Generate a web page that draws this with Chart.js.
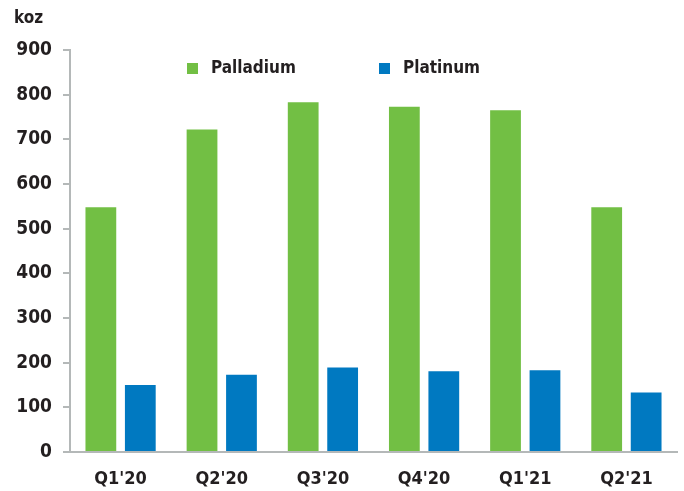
<!DOCTYPE html>
<html>
<head>
<meta charset="utf-8">
<script src="https://cdn.jsdelivr.net/npm/chart.js@4"></script>
<style>
    html, body { margin: 0; padding: 0; background: #fff; }
    #wrap { width: 684px; height: 491px; position: relative; }
</style>
</head>
<body>
<div id="wrap"><canvas id="myChart" width="684" height="491"></canvas></div>
<script>
// Dados
const quarters = ["Q1'20", "Q2'20", "Q3'20", "Q4'20", "Q1'21", "Q2'21"];
const palladium = [548, 722, 783, 773, 765, 548];
const platinum = [150, 173, 189, 181, 183, 133];
const yTicks = [0, 100, 200, 300, 400, 500, 600, 700, 800, 900];
const unitLabel = 'koz';

const textColor = '#231f20';
const axisColor = '#b4b8b8';
const fontFamily = '"DejaVu Sans Condensed", "DejaVu Sans", sans-serif';

// Legenda e unidade desenhadas por cima do gráfico
const overlayPlugin = {
    id: 'overlay',
    afterDraw(chart) {
        const ctx = chart.ctx;
        ctx.save();
        ctx.fillStyle = textColor;
        ctx.font = 'bold 17px ' + fontFamily;
        ctx.textBaseline = 'middle';
        ctx.textAlign = 'left';
        ctx.fillText(unitLabel, 14, 19);

        const legendX = [187, 379];
        chart.data.datasets.forEach((ds, i) => {
            ctx.fillStyle = ds.backgroundColor;
            ctx.fillRect(legendX[i], 63, 11, 11);
            ctx.fillStyle = textColor;
            ctx.fillText(ds.label, legendX[i] + 24, 69);
        });
        ctx.restore();
    }
};

const ctx = document.getElementById('myChart').getContext('2d');
const myChart = new Chart(ctx, {
    type: 'bar',
    data: {
        labels: quarters,
        datasets: [
            {
                label: 'Palladium',
                data: palladium,
                backgroundColor: '#72bf44',
                categoryPercentage: 0.78,
                barPercentage: 0.78
            },
            {
                label: 'Platinum',
                data: platinum,
                backgroundColor: '#0079c1',
                categoryPercentage: 0.78,
                barPercentage: 0.78
            }
        ]
    },
    options: {
        responsive: false,
        animation: false,
        layout: {
            padding: { top: 50, right: 7, bottom: 0, left: 0 }
        },
        plugins: {
            legend: { display: false },
            tooltip: { enabled: false }
        },
        scales: {
            x: {
                grid: { display: false },
                border: { color: axisColor, width: 2 },
                ticks: {
                    color: textColor,
                    font: { family: fontFamily, size: 18, weight: 'bold' },
                    padding: 9,
                    maxRotation: 0
                },
                afterFit(scale) { scale.height = 39; }
            },
            y: {
                min: 0,
                max: 900,
                afterBuildTicks(scale) {
                    scale.ticks = yTicks.map(v => ({ value: v }));
                },
                grid: {
                    drawOnChartArea: false,
                    drawTicks: true,
                    tickLength: 7,
                    color: axisColor,
                    lineWidth: 2
                },
                border: { color: axisColor, width: 2 },
                ticks: {
                    color: textColor,
                    font: { family: fontFamily, size: 19, weight: 'bold' },
                    padding: 11
                },
                afterFit(scale) { scale.width = 70; }
            }
        }
    },
    plugins: [overlayPlugin]
});
</script>
</body>
</html>
